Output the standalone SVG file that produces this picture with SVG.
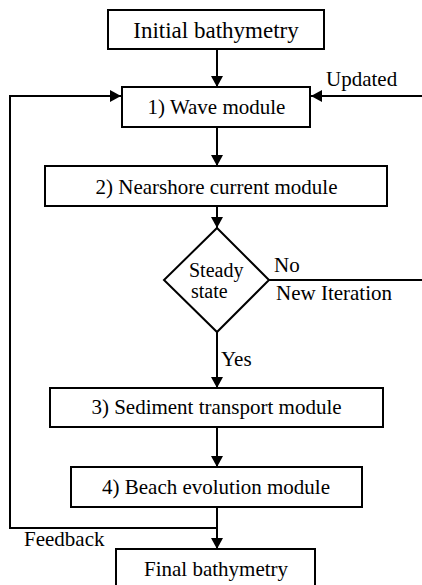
<svg xmlns="http://www.w3.org/2000/svg" width="422" height="585" viewBox="0 0 422 585" font-family="'Liberation Serif', 'DejaVu Serif', serif">
<style>
  .box{fill:#fff;stroke:#000;stroke-width:2}
  .ln{fill:none;stroke:#000;stroke-width:2}
  text{font-family:'Liberation Serif','DejaVu Serif',serif;font-size:21px;fill:#000}
  .c{text-anchor:middle}
</style>
<defs>
  <marker id="ah" markerUnits="userSpaceOnUse" markerWidth="12" markerHeight="12" viewBox="0 0 12 12" refX="11" refY="6" orient="auto">
    <path d="M0,0 L11,6 L0,12 Z" fill="#000"/>
  </marker>
</defs>
<rect width="422" height="585" fill="#fff"/>
<g id="connectors">
  <line class="ln" x1="217" y1="49" x2="217" y2="87" marker-end="url(#ah)"/>
  <line class="ln" x1="422" y1="96" x2="311" y2="96" marker-end="url(#ah)"/>
  <polyline class="ln" points="217,528 10,528 10,96 121,96" marker-end="url(#ah)"/>
  <line class="ln" x1="217" y1="127" x2="217" y2="166" marker-end="url(#ah)"/>
  <line class="ln" x1="217" y1="206" x2="217" y2="228" marker-end="url(#ah)"/>
  <line class="ln" x1="269" y1="280" x2="422" y2="280"/>
  <line class="ln" x1="217" y1="332" x2="217" y2="388" marker-end="url(#ah)"/>
  <line class="ln" x1="217" y1="427" x2="217" y2="467" marker-end="url(#ah)"/>
  <line class="ln" x1="217" y1="507" x2="217" y2="549" marker-end="url(#ah)"/>
  <text x="326" y="86">Updated</text>
  <text x="274" y="272">No</text>
  <text x="276" y="300">New Iteration</text>
  <text x="221" y="366">Yes</text>
  <text x="24" y="546">Feedback</text>
</g>
<g id="initial">
  <rect class="box" x="108" y="10" width="216" height="39"/>
  <text class="c" x="216" y="38" style="font-size:23px">Initial bathymetry</text>
</g>
<g id="wave">
  <rect class="box" x="122" y="87" width="188" height="40"/>
  <text class="c" x="216.5" y="113.5">1) Wave module</text>
</g>
<g id="nearshore">
  <rect class="box" x="45" y="166" width="342" height="40"/>
  <text class="c" x="216.5" y="193.5">2) Nearshore current module</text>
</g>
<g id="steady">
  <polygon class="box" points="217,228 269,280 217,332 164,280"/>
  <text x="189" y="276.5" style="font-size:20px">Steady</text>
  <text x="191" y="298" style="font-size:20px">state</text>
</g>
<g id="sediment">
  <rect class="box" x="50" y="388" width="333" height="39"/>
  <text class="c" x="216.5" y="414">3) Sediment transport module</text>
</g>
<g id="beach">
  <rect class="box" x="71" y="467" width="291" height="40"/>
  <text class="c" x="216" y="493.5">4) Beach evolution module</text>
</g>
<g id="final">
  <rect class="box" x="116" y="549" width="199" height="45"/>
  <text class="c" x="216" y="576">Final bathymetry</text>
</g>
</svg>
